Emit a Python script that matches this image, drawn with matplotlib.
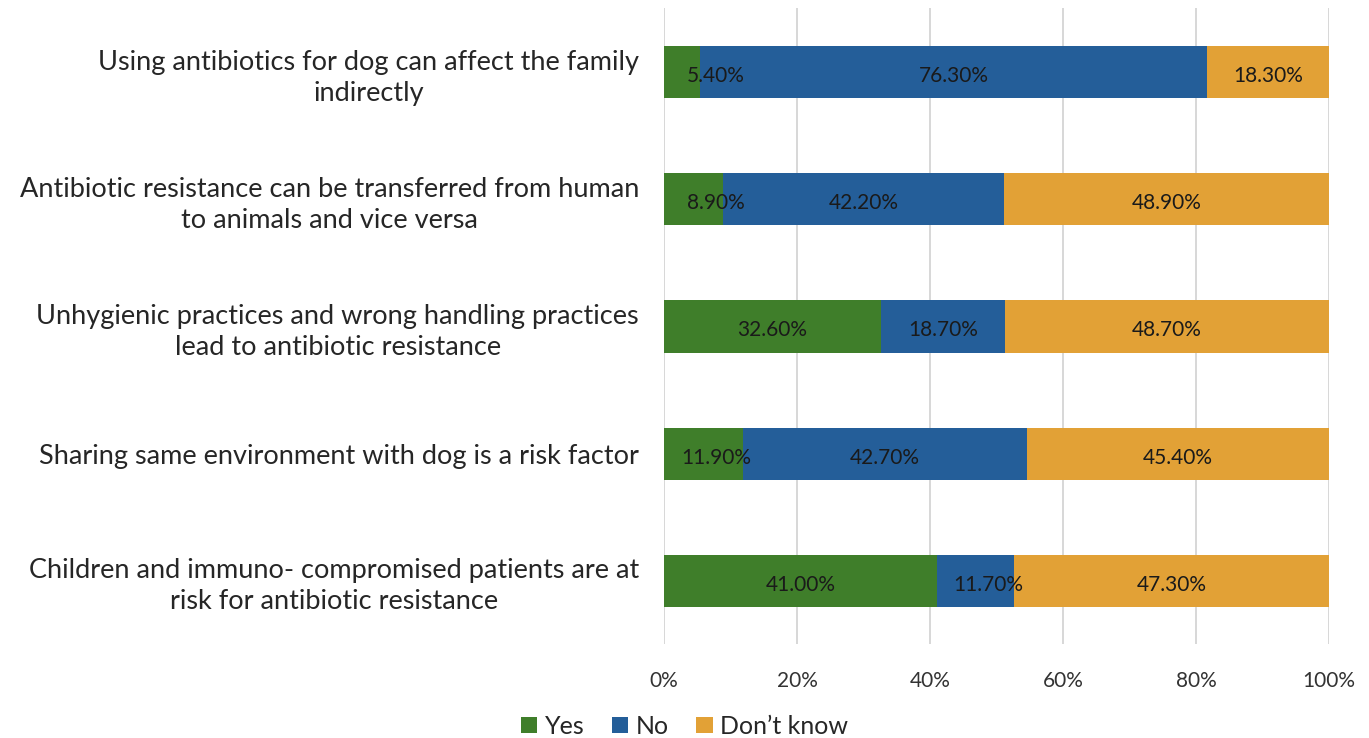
import matplotlib
matplotlib.use("Agg")
import matplotlib.pyplot as plt
import numpy as np

plt.rcParams["font.family"] = ["Lato", "DejaVu Sans"]

# statements, top to bottom
statements = [
    "Using antibiotics for dog can affect the family\nindirectly",
    "Antibiotic resistance can be transferred from human\nto animals and vice versa",
    "Unhygienic practices and wrong handling practices\nlead to antibiotic resistance",
    "Sharing same environment with dog is a risk factor",
    "Children and immuno- compromised patients are at\nrisk for antibiotic resistance",
]
yes_pct = [5.4, 8.9, 32.6, 11.9, 41.0]
no_pct = [76.3, 42.2, 18.7, 42.7, 11.7]
dont_know_pct = [18.3, 48.9, 48.7, 45.4, 47.3]

series = [("Yes", yes_pct, "#3f7e2a"),
          ("No", no_pct, "#245e99"),
          ("Don\u2019t know", dont_know_pct, "#e2a136")]

fig = plt.figure(figsize=(13.69, 7.38), dpi=100)
ax = fig.add_axes([0.485, 0.1267, 0.4858, 0.8618])

y = np.arange(len(statements))
left = np.zeros(len(statements))
for name, vals, col in series:
    vals = np.array(vals)
    ax.barh(y, vals, left=left, height=0.41, color=col, label=name, zorder=3)
    for yi, l, v in zip(y, left, vals):
        # tiny segments: push the label a bit to the right
        cx = max(l + v / 2, l + 7.8)
        ax.text(cx, yi + 0.03, f"{v:.2f}%", ha="center", va="center",
                fontsize=15, color="#1a1a1a", zorder=4)
    left += vals

ax.set_xlim(0, 100)
ax.set_ylim(len(statements) - 0.5, -0.5)
ax.set_yticks(y)
ax.set_yticklabels(statements, fontsize=19.5, color="#262626",
                   multialignment="center", linespacing=1.3)
ax.set_xticks(np.arange(0, 101, 20))
ax.set_xticklabels([f"{t}%" for t in range(0, 101, 20)], fontsize=15, color="#333333")
ax.tick_params(axis="y", length=0, pad=18)
ax.tick_params(axis="x", length=0, pad=19)
ax.grid(axis="x", color="#d4d4d4", linewidth=1.3, zorder=0)
for s in ax.spines.values():
    s.set_visible(False)

fig.legend(loc="lower center", bbox_to_anchor=(0.5, -0.03), ncol=3, frameon=False,
           fontsize=18, handlelength=0.65, handleheight=0.65, handletextpad=0.3,
           columnspacing=1.1, labelcolor="#262626")

fig.savefig("out.png", dpi=100)
